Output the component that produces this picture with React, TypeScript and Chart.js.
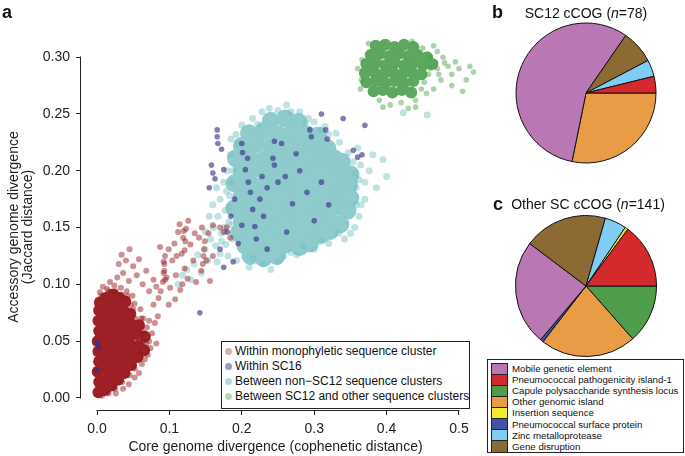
import React, { useEffect, useRef } from 'react';
import { Chart, registerables } from 'chart.js';
Chart.register(...registerables);

const FONT = "'Liberation Sans', Arial, Helvetica, sans-serif";

// ---------- scatter (panel a) ----------
const xTicks = [0, 0.1, 0.2, 0.3, 0.4, 0.5];
const yTicks = [0, 0.05, 0.1, 0.15, 0.2, 0.25, 0.3];
const scatterLegend = [
  'Within monophyletic sequence cluster',
  'Within SC16',
  'Between non\u2212SC12 sequence clusters',
  'Between SC12 and other sequence clusters',
];

// Within monophyletic sequence cluster (dense core + scatter)
const monoCore = [
  [0.002,0.005],[0.003,0.014],[0.001,0.023],[0.003,0.032],[0.002,0.041],[0.001,0.050],[0.003,0.059],[0.002,0.068],[0.003,0.077],[0.004,0.084],
  [0.011,0.007],[0.012,0.016],[0.010,0.026],[0.012,0.035],[0.011,0.044],[0.010,0.053],[0.012,0.062],[0.011,0.071],[0.013,0.080],[0.012,0.088],
  [0.020,0.011],[0.021,0.020],[0.019,0.030],[0.021,0.039],[0.020,0.048],[0.022,0.057],[0.020,0.066],[0.021,0.075],[0.020,0.084],[0.022,0.091],
  [0.029,0.016],[0.030,0.025],[0.028,0.034],[0.030,0.043],[0.029,0.052],[0.031,0.061],[0.029,0.070],[0.030,0.079],[0.031,0.088],
  [0.038,0.022],[0.039,0.031],[0.037,0.040],[0.039,0.049],[0.038,0.058],[0.040,0.067],[0.038,0.076],[0.039,0.085],
  [0.047,0.029],[0.048,0.038],[0.046,0.047],[0.048,0.056],[0.047,0.065],[0.046,0.074],
  [0.056,0.036],[0.057,0.046],[0.055,0.056],[0.058,0.064],
  [0.065,0.042],[0.066,0.054],
];
const monoSpread = [
  [0.004,0.093],[0.008,0.098],[0.014,0.096],[0.018,0.102],[0.024,0.099],[0.028,0.106],[0.033,0.097],[0.036,0.110],[0.041,0.094],[0.044,0.103],[0.049,0.090],[0.052,0.083],
  [0.030,0.118],[0.034,0.126],[0.040,0.121],[0.045,0.131],[0.050,0.116],[0.055,0.108],[0.058,0.122],[0.063,0.100],[0.068,0.112],[0.072,0.094],
  [0.060,0.078],[0.064,0.070],[0.069,0.062],[0.072,0.050],[0.076,0.057],[0.080,0.066],[0.084,0.072],[0.078,0.082],[0.085,0.088],[0.070,0.038],
  [0.062,0.030],[0.058,0.022],[0.052,0.018],[0.044,0.012],[0.036,0.008],[0.026,0.004],[0.066,0.034],[0.074,0.044],[0.082,0.048],
  [0.078,0.104],[0.082,0.098],[0.088,0.094],[0.091,0.102],[0.092,0.110],[0.093,0.118],[0.094,0.125],[0.096,0.106],[0.099,0.131],[0.101,0.097],
  [0.104,0.121],[0.107,0.136],[0.109,0.108],[0.112,0.146],[0.114,0.153],[0.117,0.127],[0.119,0.141],[0.121,0.114],[0.123,0.149],[0.126,0.156],
  [0.129,0.135],[0.133,0.121],[0.137,0.102],[0.141,0.141],[0.144,0.112],[0.148,0.131],[0.151,0.121],[0.154,0.145],[0.156,0.103],[0.160,0.152],
  [0.175,0.146],[0.179,0.150],[0.184,0.141],[0.087,0.133],[0.099,0.082],[0.108,0.087],[0.115,0.095],[0.125,0.105],[0.170,0.150],[0.160,0.125],
  [0.145,0.150],[0.135,0.145],[0.110,0.125],[0.118,0.100],
  [0.061,0.070],[0.063,0.058],[0.068,0.048],[0.053,0.070],[0.046,0.082],[0.042,0.090],[0.052,0.026],[0.045,0.020],[0.035,0.014],[0.025,0.008],
  [0.016,0.004],[0.007,0.002],[0.006,0.090],[0.016,0.094],[0.026,0.094],[0.034,0.091],[0.059,0.040],[0.064,0.050],[0.050,0.078],[0.072,0.068],
  [0.093,0.112],[0.094,0.104],[0.092,0.120],[0.120,0.147],[0.122,0.138],[0.121,0.130],[0.146,0.118],[0.147,0.125],[0.149,0.138],
];

// Within SC16
const sc16Points = [
  [0.166,0.236],[0.166,0.230],[0.167,0.224],[0.172,0.219],[0.160,0.198],[0.163,0.193],[0.175,0.201],
  [0.200,0.224],[0.201,0.216],[0.205,0.201],[0.209,0.190],[0.212,0.181],[0.215,0.166],[0.218,0.151],[0.220,0.140],[0.225,0.175],[0.230,0.160],[0.235,0.131],
  [0.243,0.211],[0.245,0.205],[0.250,0.190],[0.262,0.146],[0.270,0.171],[0.280,0.200],[0.290,0.181],
  [0.294,0.236],[0.296,0.230],[0.316,0.236],[0.318,0.228],[0.310,0.190],[0.300,0.156],
  [0.354,0.218],[0.360,0.212],[0.366,0.214],
  [0.190,0.175],[0.185,0.160],[0.180,0.146],[0.195,0.136],[0.200,0.152],[0.170,0.131],
  [0.142,0.075],[0.000,0.049],[0.000,0.025],[0.002,0.045],
  [0.245,0.226],[0.255,0.224],[0.228,0.195],[0.208,0.211],
  [0.310,0.250],[0.340,0.246],[0.370,0.240],[0.158,0.205],[0.155,0.185],[0.188,0.120],[0.175,0.115],
  [0.260,0.195],[0.275,0.215],[0.235,0.185],[0.320,0.170],
];

// Between non-SC12 sequence clusters
const nonSC12Core = [
  [0.240,0.244],[0.260,0.246],[0.278,0.243],
  [0.210,0.233],[0.230,0.235],[0.250,0.232],[0.270,0.234],[0.290,0.232],[0.305,0.231],
  [0.200,0.222],[0.220,0.224],[0.240,0.221],[0.260,0.223],[0.280,0.221],[0.300,0.223],[0.318,0.220],
  [0.192,0.211],[0.210,0.213],[0.230,0.210],[0.250,0.212],[0.270,0.210],[0.290,0.212],[0.310,0.210],[0.328,0.211],[0.338,0.208],
  [0.200,0.200],[0.220,0.202],[0.240,0.199],[0.260,0.201],[0.280,0.199],[0.300,0.201],[0.320,0.199],[0.340,0.200],[0.350,0.197],
  [0.190,0.189],[0.210,0.190],[0.230,0.188],[0.250,0.190],[0.270,0.188],[0.290,0.190],[0.310,0.188],[0.330,0.190],[0.348,0.188],
  [0.200,0.178],[0.220,0.179],[0.240,0.177],[0.260,0.179],[0.280,0.177],[0.300,0.179],[0.320,0.177],[0.340,0.179],[0.350,0.176],
  [0.190,0.167],[0.210,0.168],[0.230,0.166],[0.250,0.168],[0.270,0.166],[0.290,0.168],[0.310,0.166],[0.330,0.168],[0.346,0.165],
  [0.200,0.156],[0.220,0.157],[0.240,0.155],[0.260,0.157],[0.280,0.155],[0.300,0.157],[0.320,0.155],[0.336,0.153],
  [0.196,0.145],[0.210,0.146],[0.230,0.144],[0.250,0.146],[0.270,0.144],[0.290,0.146],[0.310,0.144],[0.322,0.147],
  [0.205,0.134],[0.220,0.135],[0.240,0.133],[0.260,0.135],[0.280,0.133],[0.294,0.136],
  [0.212,0.125],[0.230,0.123],[0.248,0.125],
];
const nonSC12Spread = [
  [0.112,0.100],[0.118,0.108],[0.124,0.113],[0.130,0.104],[0.134,0.118],[0.139,0.126],[0.144,0.110],[0.149,0.131],[0.153,0.121],[0.157,0.140],
  [0.161,0.150],[0.164,0.134],[0.167,0.160],[0.170,0.175],[0.172,0.145],[0.175,0.190],[0.177,0.165],[0.180,0.200],[0.182,0.155],[0.184,0.214],
  [0.160,0.170],[0.165,0.185],[0.155,0.160],[0.170,0.127],[0.150,0.146],[0.178,0.135],[0.183,0.178],[0.186,0.190],[0.176,0.150],[0.181,0.125],
  [0.187,0.140],[0.185,0.228],[0.192,0.232],[0.195,0.224],[0.188,0.200],[0.182,0.168],[0.186,0.152],[0.179,0.182],[0.172,0.138],[0.166,0.120],
  [0.200,0.240],[0.215,0.246],[0.228,0.252],[0.238,0.255],[0.250,0.253],[0.262,0.258],[0.280,0.252],[0.292,0.246],[0.300,0.243],[0.315,0.239],
  [0.330,0.233],[0.320,0.232],[0.335,0.225],[0.222,0.241],[0.268,0.252],[0.288,0.242],[0.310,0.236],
  [0.360,0.220],[0.364,0.205],[0.370,0.190],[0.376,0.200],[0.381,0.214],[0.370,0.175],[0.362,0.160],[0.356,0.150],[0.386,0.185],[0.395,0.210],
  [0.400,0.195],[0.342,0.140],[0.350,0.145],[0.358,0.185],[0.365,0.170],[0.356,0.198],[0.347,0.216],[0.362,0.192],[0.358,0.170],[0.354,0.208],
  [0.230,0.118],[0.250,0.120],[0.268,0.128],[0.300,0.131],[0.320,0.136],[0.210,0.115],[0.215,0.123],[0.193,0.121],[0.240,0.113],[0.258,0.125],
  [0.285,0.134],[0.334,0.145],[0.310,0.138],[0.276,0.126],
  [0.423,0.251],[0.456,0.249],
];

// Between SC12 and other sequence clusters
const sc12Core = [
  [0.385,0.310],[0.398,0.311],[0.411,0.309],[0.424,0.311],[0.437,0.309],
  [0.378,0.302],[0.391,0.303],[0.404,0.301],[0.417,0.303],[0.430,0.301],[0.443,0.302],[0.456,0.300],
  [0.372,0.294],[0.385,0.295],[0.398,0.293],[0.411,0.295],[0.424,0.293],[0.437,0.295],[0.450,0.293],[0.463,0.294],
  [0.370,0.286],[0.383,0.287],[0.396,0.285],[0.409,0.287],[0.422,0.285],[0.435,0.287],[0.448,0.285],
  [0.372,0.278],[0.385,0.279],[0.398,0.277],[0.411,0.279],[0.424,0.277],[0.437,0.279],
  [0.382,0.270],[0.395,0.271],[0.408,0.269],[0.421,0.271],[0.434,0.269],
];
const sc12Spread = [
  [0.460,0.300],[0.470,0.290],[0.475,0.280],[0.480,0.295],[0.490,0.285],[0.500,0.290],[0.510,0.280],[0.520,0.287],[0.530,0.283],[0.465,0.272],
  [0.455,0.268],[0.440,0.262],[0.420,0.260],[0.405,0.258],[0.390,0.262],[0.365,0.280],[0.360,0.290],[0.385,0.318],[0.400,0.319],[0.420,0.317],
  [0.435,0.314],[0.450,0.308],[0.490,0.275],[0.505,0.270],[0.470,0.305],[0.440,0.256],[0.465,0.310],[0.478,0.300],[0.485,0.292],[0.495,0.296],
  [0.458,0.285],[0.468,0.295],[0.445,0.318],[0.375,0.312],[0.364,0.272],[0.395,0.256],[0.430,0.255],[0.515,0.292],[0.525,0.276],[0.540,0.288],
  [0.452,0.278],[0.460,0.290],[0.472,0.285],[0.448,0.272],[0.366,0.298],
];

const RED = 'rgb(156,32,38)';
const RED_LIGHT = 'rgba(150,22,28,0.48)';
const PURPLE = 'rgba(55,45,135,0.62)';
const CYAN = 'rgb(143,203,204)';
const CYAN_LIGHT = 'rgba(115,190,192,0.45)';
const GREEN = 'rgb(94,167,94)';
const GREEN_LIGHT = 'rgba(70,155,70,0.45)';
const legendDotColors = ['rgba(150,20,28,0.35)', 'rgba(60,50,140,0.5)', 'rgba(110,188,190,0.55)', 'rgba(70,155,70,0.4)'];

// ---------- pies (panels b, c) ----------
const categories = [
  'Mobile genetic element',
  'Pneumococcal pathogenicity island-1',
  'Capule polysaccharide synthesis locus',
  'Other genomic island',
  'Insertion sequence',
  'Pneumococcal surface protein',
  'Zinc metalloprotease',
  'Gene disruption',
];
const categoryColors = ['#B978B4', '#D42A2D', '#4F9D4A', '#E89C45', '#F2EA2C', '#4452A3', '#7FCDF2', '#8C6A34'];
const sc12Counts = [44, 3, 0, 22, 0, 0, 3, 6];
const otherCounts = [34, 21, 19, 31, 1, 1, 7, 27];
const pieOrder = [2, 3, 5, 0, 7, 6, 4, 1];

const toPts = (a: number[][]) => a.map(([x, y]) => ({ x, y }));

const rAxes = {
  id: 'rAxes',
  afterDraw(chart: any) {
    const { ctx, chartArea, scales } = chart;
    const xs = scales.x;
    const ys = scales.y;
    ctx.save();
    ctx.strokeStyle = '#222';
    ctx.lineWidth = 1;
    ctx.beginPath();
    const ax = Math.round(chartArea.left) - 0.5;
    ctx.moveTo(ax, Math.round(ys.getPixelForValue(yTicks[0])) + 0.5);
    ctx.lineTo(ax, Math.round(ys.getPixelForValue(yTicks[yTicks.length - 1])) - 0.5);
    const ay = Math.round(chartArea.bottom) + 0.5;
    ctx.moveTo(Math.round(xs.getPixelForValue(xTicks[0])) - 0.5, ay);
    ctx.lineTo(Math.round(xs.getPixelForValue(xTicks[xTicks.length - 1])) + 0.5, ay);
    ctx.stroke();
    ctx.restore();
  },
};

function ScatterPanel() {
  const ref = useRef<HTMLCanvasElement>(null);
  useEffect(() => {
    const ds = (data: number[][], color: string, r: number) => ({
      data: toPts(data), backgroundColor: color, pointBackgroundColor: color, pointRadius: r,
      pointBorderWidth: 0, borderWidth: 0, pointBorderColor: 'rgba(0,0,0,0)', showLine: false, clip: false as any,
    });
    const tickGrid = { display: true, drawOnChartArea: false, drawTicks: true, tickLength: 5, color: '#222', lineWidth: 1 };
    const chart = new Chart(ref.current!, {
      type: 'scatter',
      data: {
        datasets: [
          ds(sc16Points, PURPLE, 2.8),
          ds(monoSpread, RED_LIGHT, 3),
          ds(monoCore, RED, 6),
          ds(nonSC12Spread, CYAN_LIGHT, 3.5),
          ds(nonSC12Core, CYAN, 9),
          ds(sc12Spread, GREEN_LIGHT, 2.8),
          ds(sc12Core, GREEN, 6),
        ] as any,
      },
      options: {
        responsive: false,
        animation: false,
        events: [],
        layout: { padding: { left: 0, top: 44, right: 30, bottom: 0 } },
        plugins: { legend: { display: false }, tooltip: { enabled: false } },
        scales: {
          x: {
            type: 'linear', min: -0.0221, max: 0.5152,
            afterBuildTicks: (s: any) => { s.ticks = xTicks.map((v) => ({ value: v })); },
            afterFit: (s: any) => { s.height = 46; },
            grid: tickGrid,
            border: { display: false },
            ticks: { padding: 6, color: '#222', autoSkip: false, maxRotation: 0, font: { size: 14, family: FONT }, callback: (v: any) => Number(v).toFixed(1) },
            title: { display: true, text: 'Core genome divergence (cophenetic distance)', color: '#222', font: { size: 14, family: FONT }, padding: { top: 0, bottom: 0 } },
          },
          y: {
            type: 'linear', min: -0.0106, max: 0.3116,
            afterBuildTicks: (s: any) => { s.ticks = yTicks.map((v) => ({ value: v })); },
            afterFit: (s: any) => { s.width = 81; },
            grid: tickGrid,
            border: { display: false },
            ticks: { padding: 6, color: '#222', autoSkip: false, font: { size: 14, family: FONT }, callback: (v: any) => Number(v).toFixed(2) },
            title: { display: true, text: ['Accessory genome divergence', '(Jaccard distance)'], color: '#222', font: { size: 14, family: FONT, lineHeight: 1 }, padding: { top: 7, bottom: 0 } },
          },
        } as any,
      },
      plugins: [rAxes],
    });
    return () => chart.destroy();
  }, []);
  return <canvas ref={ref} width={500} height={456} style={{ position: 'absolute', left: 0, top: 0, width: 500, height: 456 }} />;
}

function PiePanel({ counts, left, top, radius }: { counts: number[]; left: number; top: number; radius: number }) {
  const ref = useRef<HTMLCanvasElement>(null);
  useEffect(() => {
    const chart = new Chart(ref.current!, {
      type: 'pie',
      data: {
        labels: pieOrder.map((i) => categories[i]),
        datasets: [{
          data: pieOrder.map((i) => counts[i]),
          backgroundColor: pieOrder.map((i) => categoryColors[i]),
          borderColor: '#111',
          borderWidth: 1,
          radius,
        } as any],
      },
      options: {
        responsive: false,
        animation: false,
        events: [],
        rotation: 90,
        layout: { padding: 0 },
        plugins: { legend: { display: false }, tooltip: { enabled: false } },
      },
    });
    return () => chart.destroy();
  }, []);
  return <canvas ref={ref} width={150} height={150} style={{ position: 'absolute', left, top, width: 150, height: 150 }} />;
}

export default function App() {
  const txt: React.CSSProperties = { position: 'absolute', fontFamily: FONT, color: '#111', whiteSpace: 'nowrap' };
  const panelLabel: React.CSSProperties = { ...txt, fontSize: 18, fontWeight: 'bold', lineHeight: '18px' };
  const rowH = 11.1;
  return (
    <div style={{ position: 'absolute', left: 0, top: 0, width: 685, height: 456, background: '#fff', overflow: 'hidden' }}>
      <ScatterPanel />
      <PiePanel counts={sc12Counts} left={511} top={18} radius={70} />
      <PiePanel counts={otherCounts} left={511} top={211} radius={70.5} />

      <div style={{ ...panelLabel, left: 2, top: 3 }}>a</div>
      <div style={{ ...panelLabel, left: 492, top: 3 }}>b</div>
      <div style={{ ...panelLabel, left: 493, top: 195 }}>c</div>

      <div style={{ ...txt, left: 486, width: 200, top: 4.5, fontSize: 14, lineHeight: '16px', textAlign: 'center' }}>
        SC12 cCOG (<i>n</i>=78)
      </div>
      <div style={{ ...txt, left: 488, width: 200, top: 196, fontSize: 14, lineHeight: '16px', textAlign: 'center' }}>
        Other SC cCOG (<i>n</i>=141)
      </div>

      {/* scatter legend */}
      <div style={{ position: 'absolute', left: 221, top: 341, width: 249, height: 68, boxSizing: 'border-box', border: '1px solid #222', background: '#fff' }} />
      {scatterLegend.map((label, i) => (
        <React.Fragment key={label}>
          <div style={{ position: 'absolute', left: 224.5, top: 347.5 + 15 * i, width: 7, height: 7, borderRadius: '50%', background: legendDotColors[i] }} />
          <div style={{ ...txt, left: 235, top: 343.5 + 15 * i, fontSize: 12, lineHeight: '15px' }}>{label}</div>
        </React.Fragment>
      ))}

      {/* pie legend */}
      <div style={{ position: 'absolute', left: 487, top: 359, width: 197, height: 94, boxSizing: 'border-box', border: '1px solid #222', background: '#fff' }} />
      <div style={{ position: 'absolute', left: 491, top: 362.5, width: 17, height: rowH * 8 + 1, boxSizing: 'border-box', border: '1px solid #222' }}>
        {categories.map((c, i) => (
          <div key={c} style={{ height: rowH, boxSizing: 'border-box', background: categoryColors[i], borderBottom: i < 7 ? '1px solid #222' : 'none' }} />
        ))}
      </div>
      {categories.map((c, i) => (
        <div key={c} style={{ ...txt, left: 512, top: 363 + rowH * i, fontSize: 9.7, lineHeight: rowH + 'px' }}>{c}</div>
      ))}
    </div>
  );
}
